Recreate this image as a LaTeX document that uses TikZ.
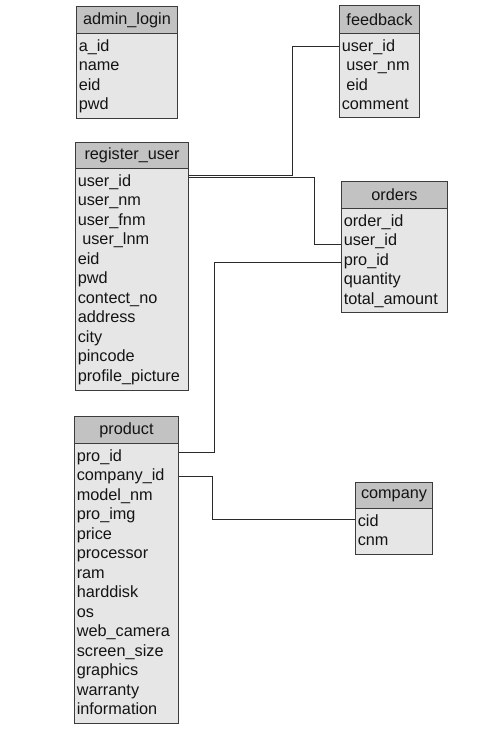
\documentclass[tikz,border=0pt]{standalone}
\usepackage{fontspec}
\setmainfont{Liberation Sans}
\definecolor{boxline}{HTML}{3C3C3C}
\definecolor{hdrgray}{HTML}{C2C2C2}
\definecolor{bodygray}{HTML}{E6E6E6}
\definecolor{txt}{HTML}{141414}
\definecolor{linkcol}{HTML}{2A2A2A}
% One entity: id, left, top, right, header bottom, bottom, title, fields
\newcommand\erdtable[8]{%
  \pgfmathsetmacro\tblw{(#4-#2)*0.75}%
  \pgfmathsetmacro\tblh{(#5-#3)*0.75}%
  \pgfmathsetmacro\tblb{(#6-#5)*0.75}%
  \node[bodybox, anchor=north west, minimum width=\tblw pt, minimum height=\tblb pt] (#1-b) at (#2,#5) {};
  \node[hdrbox, anchor=north west, minimum width=\tblw pt, minimum height=\tblh pt] (#1-h) at (#2,#3) {#7};
  \foreach \r [count=\k] in {#8}
    \node[rowtxt, anchor=mid west] (#1-\k) at ({#2+2.5},{#5+14.5+19.5*(\k-1)}) {\r};
}
\begin{document}
\begin{tikzpicture}[x=0.75pt,y=-0.75pt,
  hdrbox/.style={draw=boxline, fill=hdrgray, line width=0.75pt, inner sep=0pt,
    font=\fontsize{12.2}{14}\selectfont, text=txt},
  bodybox/.style={draw=boxline, fill=bodygray, line width=0.75pt, inner sep=0pt},
  rowtxt/.style={inner sep=0pt, font=\fontsize{12.2}{14}\selectfont, text=txt},
  link/.style={draw=linkcol, line width=0.75pt}]
\useasboundingbox (0,0) rectangle (500,734);

\erdtable{al}{76}{6}{177}{33}{118}{admin\_login}{a\_id,name,eid,pwd}
\erdtable{fb}{339}{5}{419}{33}{117}{feedback}{user\_id,\ user\_nm,\ eid,comment}
\erdtable{ru}{75}{142}{188}{168}{390}{register\_user}{user\_id,user\_nm,user\_fnm,\ user\_lnm,eid,pwd,contect\_no,address,city,pincode,profile\_picture}
\erdtable{or}{341}{181}{447}{208}{312}{orders}{order\_id,user\_id,pro\_id,quantity,total\_amount}
\erdtable{pr}{74}{416}{178}{443}{723}{product}{pro\_id,company\_id,model\_nm,pro\_img,price,processor,ram,harddisk,os,web\_camera,screen\_size,graphics,warranty,information}
\erdtable{co}{355}{482}{432}{508}{554}{company}{cid,cnm}

% relationships
\draw[link] ([yshift=0.75pt]fb-b.west |- fb-1.mid) -- ++(-47,0) |- ([yshift=4.9pt]ru-b.east |- ru-1.mid);
\draw[link] ([yshift=3.4pt]ru-b.east |- ru-1.mid) -- ++(125,0) |- ([yshift=-1.5pt]or-b.west |- or-2.mid);
\draw[link] ([yshift=4pt]pr-b.east |- pr-1.mid) -- ++(35,0) |- ([yshift=-0.4pt]or-b.west |- or-3.mid);
\draw[link] ([yshift=0.4pt]pr-b.east |- pr-2.mid) -- ++(33,0) |- ([yshift=1.9pt]co-b.west |- co-1.mid);
\end{tikzpicture}
\end{document}
